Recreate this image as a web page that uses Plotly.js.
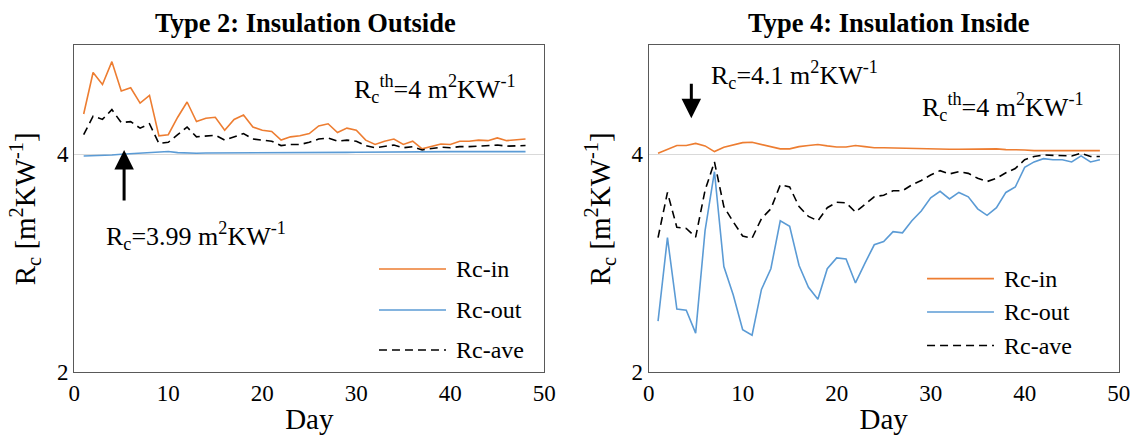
<!DOCTYPE html>
<html>
<head>
<meta charset="utf-8">
<script src="https://cdn.plot.ly/plotly-3.0.1.min.js"></script>
<style>html,body{margin:0;padding:0;background:#fff;}#chart{width:1134px;height:435px;}</style>
</head>
<body>
<div id="chart"></div>
<script>
// ---- data ----
var days = [];
for (var i = 1; i <= 48; i++) days.push(i);
var seriesNames = ["Rc-in", "Rc-out", "Rc-ave"];
var panelTitles = ["Type 2: Insulation Outside", "Type 4: Insulation Inside"];
var xTickVals = [0, 10, 20, 30, 40, 50];
var yTickVals = [2, 4];

var t2In = [4.37,4.75,4.64,4.85,4.58,4.61,4.47,4.54,4.17,4.18,4.34,4.48,4.30,4.33,4.34,4.22,4.32,4.36,4.25,4.22,4.21,4.13,4.16,4.17,4.19,4.26,4.28,4.20,4.24,4.22,4.13,4.09,4.12,4.14,4.09,4.12,4.05,4.07,4.095,4.09,4.12,4.12,4.13,4.125,4.15,4.125,4.13,4.14];
var t2Out = [3.985,3.987,3.99,3.993,4.0,4.005,4.008,4.01,4.02,4.025,4.015,4.01,4.01,4.012,4.012,4.014,4.014,4.015,4.015,4.016,4.016,4.017,4.016,4.016,4.017,4.017,4.018,4.018,4.018,4.019,4.02,4.022,4.022,4.023,4.023,4.023,4.022,4.024,4.024,4.024,4.024,4.024,4.024,4.025,4.025,4.025,4.025,4.024];
var t2Ave = [4.18,4.35,4.32,4.41,4.29,4.30,4.24,4.28,4.10,4.11,4.18,4.25,4.16,4.17,4.175,4.13,4.16,4.19,4.14,4.13,4.12,4.08,4.09,4.09,4.11,4.14,4.15,4.12,4.13,4.12,4.08,4.06,4.07,4.085,4.06,4.07,4.04,4.05,4.065,4.06,4.07,4.07,4.075,4.075,4.085,4.075,4.08,4.08];

var t4In = [4.01,4.045,4.08,4.08,4.10,4.077,4.025,4.065,4.086,4.107,4.11,4.09,4.077,4.05,4.05,4.07,4.08,4.09,4.077,4.067,4.067,4.08,4.07,4.06,4.06,4.058,4.055,4.055,4.05,4.046,4.043,4.046,4.046,4.046,4.05,4.052,4.05,4.043,4.043,4.04,4.034,4.034,4.034,4.034,4.034,4.034,4.034,4.034];
var t4Out = [2.47,3.236,2.58,2.57,2.36,3.30,3.84,2.97,2.71,2.39,2.34,2.76,2.95,3.39,3.34,2.98,2.78,2.67,2.95,3.05,3.04,2.82,3.0,3.17,3.20,3.29,3.28,3.39,3.48,3.60,3.66,3.59,3.65,3.61,3.50,3.44,3.51,3.65,3.70,3.88,3.93,3.96,3.95,3.95,3.93,3.985,3.93,3.95];
var t4Ave = [3.236,3.65,3.33,3.32,3.24,3.67,3.93,3.52,3.38,3.25,3.23,3.41,3.50,3.72,3.70,3.52,3.43,3.39,3.51,3.56,3.555,3.47,3.54,3.61,3.625,3.665,3.665,3.72,3.76,3.81,3.85,3.82,3.84,3.825,3.78,3.75,3.78,3.83,3.87,3.95,3.98,3.994,3.99,3.99,3.985,4.01,3.98,3.98];

// ---- styles ----
var colors = ["#ED7D31", "#5B9BD5", "#000000"];
var dashes = ["solid", "solid", "8px,5px"];
var FONT = "Liberation Serif";

var panels = [
  {x: "x", y: "y", data: [t2In, t2Out, t2Ave]},
  {x: "x2", y: "y2", data: [t4In, t4Out, t4Ave]}
];
var traces = [];
panels.forEach(function (p) {
  p.data.forEach(function (vals, k) {
    traces.push({
      type: "scatter", mode: "lines", x: days, y: vals, name: seriesNames[k],
      xaxis: p.x, yaxis: p.y, showlegend: false,
      line: {color: colors[k], width: 1.6, dash: dashes[k]}
    });
  });
});

function xax(domain, anchor) {
  return {
    domain: domain, anchor: anchor, range: [0, 50], tickvals: xTickVals, ticks: "", showgrid: false, zeroline: false,
    showline: true, mirror: true, linecolor: "#595959", linewidth: 1.3,
    tickfont: {family: FONT, size: 23, color: "#000"},
    title: {text: "Day", font: {family: FONT, size: 29, color: "#000"}, standoff: 4}
  };
}
function yax(domain, anchor) {
  return {
    domain: domain, anchor: anchor, range: [2, 5], tickvals: yTickVals, ticks: "", showgrid: true,
    gridcolor: "#d9d9d9", gridwidth: 1, zeroline: false,
    showline: true, mirror: true, linecolor: "#595959", linewidth: 1.3,
    tickfont: {family: FONT, size: 23, color: "#000"},
    title: {text: "R<sub>c</sub> [m<sup>2</sup>KW<sup>-1</sup>]", font: {family: FONT, size: 29, color: "#000"}, standoff: 12}
  };
}

var yd = [0.1441, 0.8959];
var layout = {
  width: 1134, height: 435, margin: {l: 0, r: 0, t: 0, b: 0},
  paper_bgcolor: "#fff", plot_bgcolor: "#fff",
  font: {family: FONT, color: "#000"},
  xaxis: xax([0.0655, 0.48], "y"), yaxis: yax(yd, "x"),
  xaxis2: xax([0.572, 0.9865], "y2"), yaxis2: yax(yd, "x2"),
  annotations: [], shapes: []
};

var ann = layout.annotations;
// panel titles
var titleFont = {family: FONT, size: 26.5, color: "#000"};
ann.push({text: "<b>" + panelTitles[0] + "</b>", xref: "paper", yref: "paper", x: 0.269, y: 0.947, xanchor: "center", yanchor: "middle", showarrow: false, font: titleFont});
ann.push({text: "<b>" + panelTitles[1] + "</b>", xref: "paper", yref: "paper", x: 0.784, y: 0.947, xanchor: "center", yanchor: "middle", showarrow: false, font: titleFont});
// text notes
var noteFont = {family: FONT, size: 26, color: "#000"};
ann.push({text: "R<sub>c</sub><sup>th</sup>=4 m<sup>2</sup>KW<sup>-1</sup>", xref: "paper", yref: "paper", x: 0.3104, y: 0.7963, xanchor: "left", yanchor: "middle", showarrow: false, font: noteFont});
ann.push({text: "R<sub>c</sub>=3.99 m<sup>2</sup>KW<sup>-1</sup>", xref: "paper", yref: "paper", x: 0.0914, y: 0.4579, xanchor: "left", yanchor: "middle", showarrow: false, font: noteFont});
ann.push({text: "R<sub>c</sub>=4.1 m<sup>2</sup>KW<sup>-1</sup>", xref: "paper", yref: "paper", x: 0.6249, y: 0.8276, xanchor: "left", yanchor: "middle", showarrow: false, font: noteFont});
ann.push({text: "R<sub>c</sub><sup>th</sup>=4 m<sup>2</sup>KW<sup>-1</sup>", xref: "paper", yref: "paper", x: 0.8113, y: 0.754, xanchor: "left", yanchor: "middle", showarrow: false, font: noteFont});
// arrows
ann.push({text: "", xref: "x", yref: "y", x: 5.3, y: 4.04, ax: 0, ay: 52, showarrow: true, arrowhead: 2, arrowsize: 1.3, arrowwidth: 3, arrowcolor: "#000"});
ann.push({text: "", xref: "x2", yref: "y2", x: 4.54, y: 4.33, ax: 0, ay: -36, showarrow: true, arrowhead: 2, arrowsize: 1.3, arrowwidth: 3, arrowcolor: "#000"});

// custom legends
var legs = [
  {x0: 0.3342, x1: 0.3933, tx: 0.4004, ys: [0.3816, 0.2874, 0.1954]},
  {x0: 0.8175, x1: 0.8765, tx: 0.8836, ys: [0.3595, 0.2828, 0.2057]}
];
legs.forEach(function (L) {
  seriesNames.forEach(function (nm, k) {
    layout.shapes.push({type: "line", xref: "paper", yref: "paper", x0: L.x0, x1: L.x1, y0: L.ys[k], y1: L.ys[k], line: {color: colors[k], width: 1.6, dash: dashes[k]}});
    ann.push({text: nm, xref: "paper", yref: "paper", x: L.tx, y: L.ys[k], xanchor: "left", yanchor: "middle", showarrow: false, font: {family: FONT, size: 24, color: "#000"}});
  });
});

Plotly.newPlot("chart", traces, layout, {displayModeBar: false});
</script>
</body>
</html>
